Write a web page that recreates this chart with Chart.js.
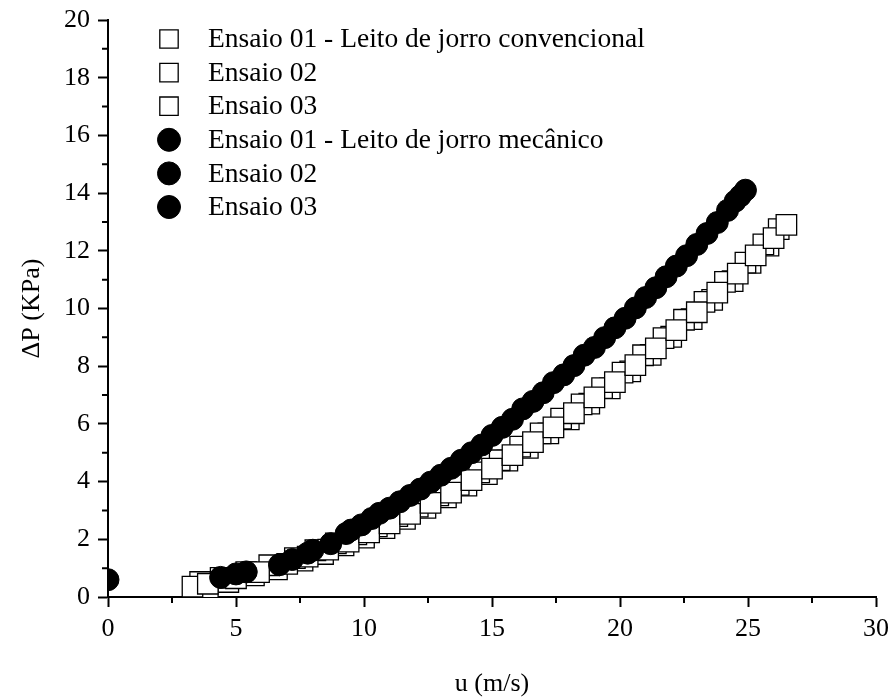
<!DOCTYPE html>
<html>
<head>
<meta charset="utf-8">
<script src="https://cdn.jsdelivr.net/npm/chart.js@4.4.0/dist/chart.umd.min.js"></script>
<style>
  html, body { margin: 0; padding: 0; background: #fff; }
  #wrap { width: 893px; height: 697px; }
</style>
</head>
<body>
<div id="wrap"><canvas id="chart"></canvas></div>
<script>
// series labels
const seriesLabels = [
    'Ensaio 01 - Leito de jorro convencional',
    'Ensaio 02',
    'Ensaio 03',
    'Ensaio 01 - Leito de jorro mecânico',
    'Ensaio 02',
    'Ensaio 03'
];

// conventional spouted bed (squares)
const conv01X = [3.3, 3.9, 5.0, 5.9, 7.0, 7.8, 8.6, 9.4, 10.2, 11.0, 11.8, 12.6, 13.4, 14.2, 15.0, 15.8, 16.6, 17.4, 18.2, 19.0, 19.8, 20.6, 21.4, 22.2, 23.0, 23.8, 24.6, 25.3, 26.0, 26.5];
const conv01Y = [0.36, 0.46, 0.65, 0.86, 1.15, 1.40, 1.64, 1.92, 2.24, 2.55, 2.88, 3.26, 3.62, 4.05, 4.45, 4.92, 5.37, 5.88, 6.37, 6.92, 7.45, 8.04, 8.62, 9.25, 9.87, 10.55, 11.21, 11.84, 12.44, 12.90];
const conv02X = [3.6, 4.4, 5.4, 6.3, 7.3, 8.1, 8.9, 9.7, 10.5, 11.3, 12.1, 12.9, 13.7, 14.5, 15.3, 16.1, 16.9, 17.7, 18.5, 19.3, 20.1, 20.9, 21.7, 22.5, 23.3, 24.1, 24.9, 25.6, 26.2];
const conv02Y = [0.52, 0.66, 0.86, 1.10, 1.35, 1.62, 1.86, 2.17, 2.45, 2.80, 3.13, 3.52, 3.89, 4.32, 4.74, 5.21, 5.67, 6.18, 6.68, 7.24, 7.78, 8.38, 8.97, 9.61, 10.23, 10.92, 11.59, 12.22, 12.75];
const conv03X = [3.9, 4.7, 5.7, 6.6, 7.6, 8.4, 9.2, 10.0, 10.8, 11.6, 12.4, 13.2, 14.0, 14.8, 15.6, 16.4, 17.2, 18.0, 18.8, 19.6, 20.4, 21.2, 22.0, 22.8, 23.6, 24.4, 25.1, 25.8];
const conv03Y = [0.25, 0.52, 0.75, 0.96, 1.26, 1.49, 1.79, 2.06, 2.39, 2.71, 3.09, 3.45, 3.86, 4.26, 4.73, 5.17, 5.67, 6.16, 6.70, 7.23, 7.82, 8.39, 9.02, 9.63, 10.30, 10.95, 11.58, 12.18];

// mechanical spouted bed (circles)
const mec01X = [0.0, 4.4, 6.7, 8.0, 9.5, 10.6, 11.8, 13.0, 14.2, 15.4, 16.6, 17.8, 19.0, 20.2, 21.4, 22.6, 23.8, 24.9];
const mec01Y = [0.60, 0.68, 1.12, 1.62, 2.32, 2.90, 3.52, 4.22, 5.00, 5.88, 6.78, 7.70, 8.65, 9.66, 10.72, 11.83, 12.98, 14.10];
const mec02X = [5.0, 7.2, 8.7, 9.9, 11.0, 12.2, 13.4, 14.6, 15.8, 17.0, 18.2, 19.4, 20.6, 21.8, 23.0, 24.2, 24.7];
const mec02Y = [0.80, 1.30, 1.85, 2.50, 3.08, 3.74, 4.46, 5.27, 6.16, 7.08, 8.02, 8.99, 10.02, 11.10, 12.22, 13.40, 13.90];
const mec03X = [5.4, 7.8, 9.3, 10.3, 11.4, 12.6, 13.8, 15.0, 16.2, 17.4, 18.6, 19.8, 21.0, 22.2, 23.4, 24.5];
const mec03Y = [0.87, 1.52, 2.20, 2.72, 3.30, 3.98, 4.74, 5.60, 6.52, 7.43, 8.38, 9.33, 10.38, 11.47, 12.60, 13.72];

// axis ticks
const xTicks = [0, 5, 10, 15, 20, 25, 30];
const yTicks = [0, 2, 4, 6, 8, 10, 12, 14, 16, 18, 20];

const toPoints = (xs, ys) => xs.map((x, i) => ({ x: x, y: ys[i] }));

const serif = '"Liberation Serif", "Times New Roman", serif';

function squareSet(label, xs, ys) {
    return {
        label: label,
        data: toPoints(xs, ys),
        pointStyle: 'rect',
        pointRadius: 14.5,
        backgroundColor: '#ffffff',
        borderColor: '#000000',
        borderWidth: 1.3,
        showLine: false,
        clip: 0,
        order: 2
    };
}

function circleSet(label, xs, ys) {
    return {
        label: label,
        data: toPoints(xs, ys),
        pointStyle: 'circle',
        pointRadius: 11,
        backgroundColor: '#000000',
        borderColor: '#000000',
        borderWidth: 1,
        showLine: false,
        clip: 0,
        order: 1
    };
}

// minor ticks between the labelled ones
const minorTicks = {
    id: 'minorTicks',
    afterDraw(chart) {
        const ctx = chart.ctx;
        const xs = chart.scales.x;
        const ys = chart.scales.y;
        const area = chart.chartArea;
        ctx.save();
        ctx.strokeStyle = '#000';
        ctx.lineWidth = 2;
        ctx.beginPath();
        for (let i = 0; i < xTicks.length - 1; i++) {
            const px = xs.getPixelForValue((xTicks[i] + xTicks[i + 1]) / 2);
            ctx.moveTo(px, area.bottom);
            ctx.lineTo(px, area.bottom + 6);
        }
        for (let i = 0; i < yTicks.length - 1; i++) {
            const py = ys.getPixelForValue((yTicks[i] + yTicks[i + 1]) / 2);
            ctx.moveTo(area.left, py);
            ctx.lineTo(area.left - 6, py);
        }
        ctx.stroke();
        ctx.restore();
    }
};

// legend drawn inside the plot
const insideLegend = {
    id: 'insideLegend',
    afterDraw(chart) {
        const ctx = chart.ctx;
        const area = chart.chartArea;
        ctx.save();
        ctx.font = '27.5px ' + serif;
        ctx.textBaseline = 'middle';
        ctx.textAlign = 'left';
        chart.data.datasets.forEach((ds, i) => {
            const y = area.top + 19 + i * 33.6;
            const mx = area.left + 61;
            ctx.fillStyle = ds.backgroundColor;
            ctx.strokeStyle = ds.borderColor;
            ctx.lineWidth = ds.borderWidth;
            Chart.helpers.drawPoint(ctx, {
                pointStyle: ds.pointStyle,
                radius: ds.pointStyle === 'rect' ? 13 : 11.5,
                borderWidth: ds.borderWidth
            }, mx, y);
            ctx.fillStyle = '#000';
            ctx.fillText(ds.label, area.left + 100, y + 1);
        });
        ctx.restore();
    }
};

const datasets = [
    squareSet(seriesLabels[0], conv01X, conv01Y),
    squareSet(seriesLabels[1], conv02X, conv02Y),
    squareSet(seriesLabels[2], conv03X, conv03Y),
    circleSet(seriesLabels[3], mec01X, mec01Y),
    circleSet(seriesLabels[4], mec02X, mec02Y),
    circleSet(seriesLabels[5], mec03X, mec03Y)
];

new Chart(document.getElementById('chart'), {
    type: 'scatter',
    data: { datasets: datasets },
    options: {
        responsive: true,
        maintainAspectRatio: false,
        animation: false,
        layout: { padding: { top: 20, right: 17, left: 0, bottom: 0 } },
        plugins: {
            legend: { display: false },
            tooltip: { enabled: false }
        },
        scales: {
            x: {
                type: 'linear',
                min: 0,
                max: 30,
                ticks: {
                    stepSize: 5,
                    padding: 7,
                    color: '#000',
                    font: { family: serif, size: 26 },
                    maxRotation: 0
                },
                grid: { drawOnChartArea: false, tickLength: 10, tickWidth: 2, tickColor: '#000' },
                border: { color: '#000', width: 2 },
                title: {
                    display: true,
                    text: 'u (m/s)',
                    color: '#000',
                    font: { family: serif, size: 26 },
                    padding: { top: 0, bottom: -3 }
                },
                afterFit(scale) {
                    scale.height = 100;
                    scale.paddingLeft = 0;
                    scale.paddingRight = 0;
                }
            },
            y: {
                type: 'linear',
                min: 0,
                max: 20,
                ticks: {
                    stepSize: 2,
                    padding: 8,
                    color: '#000',
                    font: { family: serif, size: 26 }
                },
                grid: { drawOnChartArea: false, tickLength: 10, tickWidth: 2, tickColor: '#000' },
                border: { color: '#000', width: 2 },
                title: {
                    display: true,
                    text: 'ΔP (KPa)',
                    color: '#000',
                    font: { family: serif, size: 26 },
                    padding: { top: 17, bottom: 0 }
                },
                afterFit(scale) {
                    scale.width = 108;
                    scale.paddingTop = 0;
                    scale.paddingBottom = 0;
                }
            }
        }
    },
    plugins: [minorTicks, insideLegend]
});
</script>
</body>
</html>
